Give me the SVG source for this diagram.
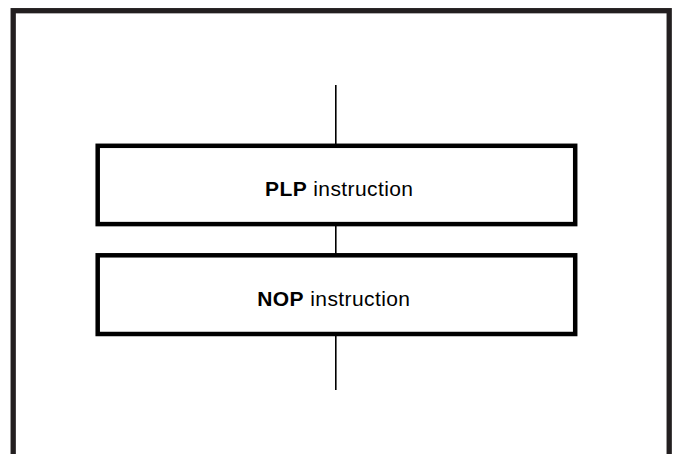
<svg xmlns="http://www.w3.org/2000/svg" width="674" height="454" viewBox="0 0 674 454">
<style>
.frame{fill:none;stroke:#231f20;stroke-width:5.3}
.box{fill:#fff;stroke:#000;stroke-width:4.5}
.conn{stroke:#000;stroke-width:1.6;fill:none}
.lbl{font-family:"Liberation Sans",Arial,sans-serif;font-size:21px;letter-spacing:0.4px;fill:#000}
.b{font-weight:bold}
</style>
<rect x="0" y="0" width="674" height="454" fill="#fff"/>
<rect class="frame" x="13.2" y="10.7" width="656" height="500"/>
<g id="connectors">
<line class="conn" x1="335.8" y1="85" x2="335.8" y2="146"/>
<line class="conn" x1="335.8" y1="224" x2="335.8" y2="255"/>
<line class="conn" x1="335.8" y1="334" x2="335.8" y2="390"/>
</g>
<g id="plp">
<rect class="box" x="97.7" y="145.8" width="477.5" height="78.3"/>
<text class="lbl" x="265" y="195.7"><tspan class="b">PLP</tspan> instruction</text>
</g>
<g id="nop">
<rect class="box" x="97.7" y="255.3" width="477.5" height="78.7"/>
<text class="lbl" x="257.3" y="305.7"><tspan class="b">NOP</tspan> instruction</text>
</g>
</svg>
